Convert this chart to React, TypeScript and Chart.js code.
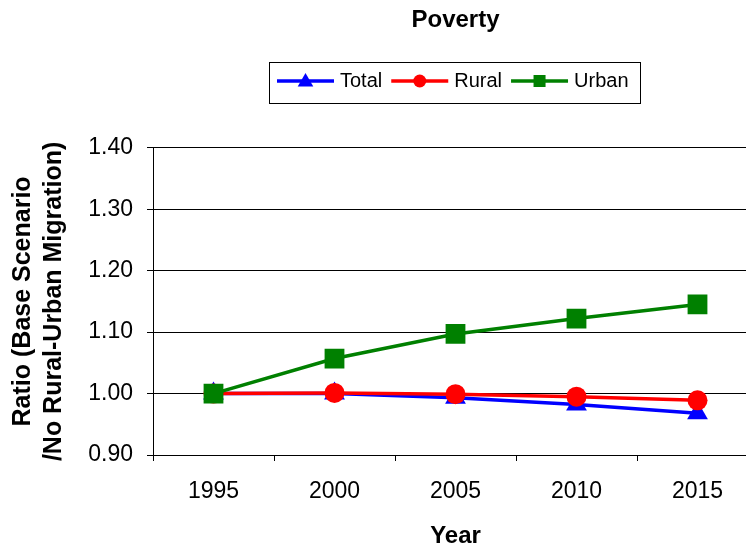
import React, { useEffect, useRef } from 'react';
import { Chart, registerables } from 'chart.js';

Chart.register(...registerables);

const years = ['1995', '2000', '2005', '2010', '2015'];
const totalValues = [1.0, 1.0, 0.993, 0.982, 0.968];
const ruralValues = [1.0, 1.001, 0.999, 0.995, 0.989];
const urbanValues = [1.0, 1.057, 1.097, 1.122, 1.145];
const seriesNames = ['Total', 'Rural', 'Urban'];
const seriesColors = ['#0000FF', '#FF0000', '#008000'];
const seriesMarkers = ['triangle', 'circle', 'rect'];
const yMin = 0.9;
const yMax = 1.4;
const yStep = 0.1;
const chartTitle = 'Poverty';
const xTitle = 'Year';
const yTitle = ['Ratio (Base Scenario', '/No Rural-Urban Migration)'];

const FONT = '"Liberation Sans", Arial, Helvetica, sans-serif';
const CANVAS_W = 772;
const CANVAS_H = 552;

function drawMarker(ctx: CanvasRenderingContext2D, style: string, x: number, y: number, r: number, color: string) {
  ctx.save();
  ctx.fillStyle = color;
  ctx.beginPath();
  if (style === 'circle') {
    ctx.arc(x, y, r, 0, Math.PI * 2);
  } else if (style === 'rect') {
    const s = r * Math.SQRT1_2;
    ctx.rect(x - s, y - s, 2 * s, 2 * s);
  } else {
    ctx.moveTo(x, y - r);
    ctx.lineTo(x + r * 0.866, y + r * 0.5);
    ctx.lineTo(x - r * 0.866, y + r * 0.5);
    ctx.closePath();
  }
  ctx.fill();
  ctx.restore();
}

const legendBoxPlugin = {
  id: 'legendBox',
  afterDraw(chart: any) {
    const ctx: CanvasRenderingContext2D = chart.ctx;
    const ds = chart.data.datasets;
    const order = [...ds].sort((a: any, b: any) => a.legendIndex - b.legendIndex);
    ctx.save();
    ctx.font = `20px ${FONT}`;
    const padL = 8, lineLen = 57, gap = 6, itemGap = 9, padR = 11;
    const widths = order.map((d: any) => ctx.measureText(d.label).width);
    const total = padL + padR + widths.reduce((a: number, w: number) => a + lineLen + gap + w, 0) + itemGap * (order.length - 1);
    const cx = 454;
    const left = Math.round(cx - total / 2);
    const top = 62, h = 41, cy = 81;
    ctx.strokeStyle = '#000';
    ctx.lineWidth = 1;
    ctx.strokeRect(left + 0.5, top + 0.5, Math.round(total), h);
    let x = left + padL;
    const legendR: Record<string, number> = { triangle: 9, circle: 6.5, rect: 8.5 };
    order.forEach((d: any, i: number) => {
      ctx.strokeStyle = d.borderColor;
      ctx.lineWidth = 3.5;
      ctx.beginPath();
      ctx.moveTo(x, cy);
      ctx.lineTo(x + lineLen, cy);
      ctx.stroke();
      drawMarker(ctx, d.pointStyle, x + lineLen / 2, cy + (d.pointStyle === 'triangle' ? 1 : 0), legendR[d.pointStyle], d.borderColor);
      x += lineLen + gap;
      ctx.fillStyle = '#000';
      ctx.textBaseline = 'middle';
      ctx.textAlign = 'left';
      ctx.fillText(d.label, x, cy);
      x += widths[i] + itemGap;
    });
    ctx.restore();
  },
};

export default function App() {
  const ref = useRef<HTMLCanvasElement>(null);
  useEffect(() => {
    const valuesList = [totalValues, ruralValues, urbanValues];
    const radii = [12, 10, 14];
    const datasets = seriesNames.map((name, i) => ({
      label: name,
      data: valuesList[i],
      borderColor: seriesColors[i],
      backgroundColor: seriesColors[i],
      borderWidth: 3.5,
      pointStyle: seriesMarkers[i],
      pointRadius: radii[i],
      pointBackgroundColor: seriesColors[i],
      pointBorderColor: seriesColors[i],
      pointBorderWidth: 0,
      tension: 0,
      order: 3 - i,
      legendIndex: i,
    }));
    const chart = new Chart(ref.current!, {
      type: 'line',
      data: { labels: years, datasets: datasets as any },
      plugins: [legendBoxPlugin],
      options: {
        animation: false,
        responsive: false,
        events: [],
        layout: { padding: { left: 0, right: 2, top: 0, bottom: 0 } },
        plugins: {
          legend: { display: false },
          tooltip: { enabled: false },
          title: {
            display: true,
            text: chartTitle,
            fullSize: false,
            color: '#000',
            font: { family: FONT, size: 24, weight: 'bold' },
            padding: { top: 6, bottom: 113 },
          },
        },
        scales: {
          x: {
            type: 'category',
            offset: true,
            afterFit: (s: any) => { s.height = 97; },
            grid: { display: true, drawOnChartArea: false, offset: true, color: '#000', tickLength: 6, lineWidth: 1 },
            border: { display: true, color: '#000', width: 1 },
            ticks: { color: '#000', font: { family: FONT, size: 23 }, padding: 17, maxRotation: 0 },
            title: {
              display: true,
              text: xTitle,
              color: '#000',
              font: { family: FONT, size: 24, weight: 'bold' },
              padding: { top: 0, bottom: 1 },
            },
          },
          y: {
            type: 'linear',
            min: yMin,
            max: yMax,
            afterFit: (s: any) => { s.width = 153; },
            grid: { display: true, color: '#000', tickLength: 6, lineWidth: 1 },
            border: { display: true, color: '#000', width: 1 },
            ticks: {
              stepSize: yStep,
              color: '#000',
              font: { family: FONT, size: 23 },
              padding: 14,
              callback: (v: any) => Number(v).toFixed(2),
            },
            title: {
              display: true,
              text: yTitle,
              color: '#000',
              font: { family: FONT, size: 25, weight: 'bold', lineHeight: 1.24 },
              padding: { top: 8, bottom: 0 },
            },
          },
        },
      } as any,
    });
    return () => chart.destroy();
  }, []);
  return (
    <div style={{ position: 'fixed', left: 0, top: 0, width: 746, height: 552, overflow: 'hidden', background: '#fff' }}>
      <div style={{ position: 'absolute', left: 0, top: 0, width: CANVAS_W, height: CANVAS_H }}>
        <canvas
          ref={ref}
          width={CANVAS_W}
          height={CANVAS_H}
          style={{ display: 'block', width: CANVAS_W, height: CANVAS_H }}
        />
      </div>
    </div>
  );
}
